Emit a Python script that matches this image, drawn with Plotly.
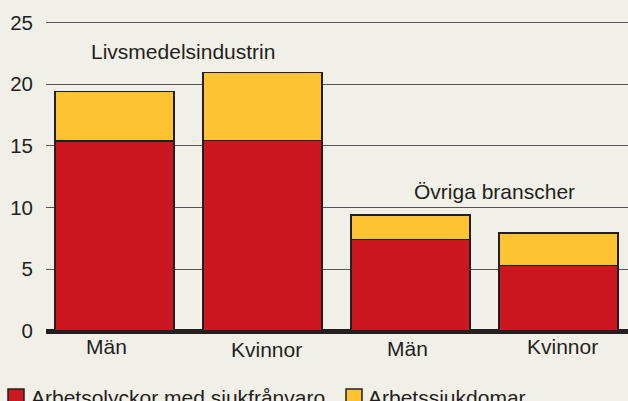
import plotly.graph_objects as go

categories = ["Män", "Kvinnor", "Män", "Kvinnor"]
groups = ["Livsmedelsindustrin", "Övriga branscher"]
series_names = ["Arbetsolyckor med sjukfrånvaro", "Arbetssjukdomar"]
olyckor = [15.4, 15.45, 7.4, 5.3]
sjukdomar = [4.0, 5.5, 2.0, 2.65]
y_ticks = [0, 5, 10, 15, 20, 25]

RED = "#cc1720"
YELLOW = "#fec232"
DARK = "#231f20"
BG = "#f1f0e8"
FONT = "Liberation Sans, Arial, sans-serif"

W, H = 628, 401
ML, MR, MT, MB = 46, 0, 15, 70
PW = W - ML - MR
PH = H - MT - MB
YMAX = 25.6

def px_x(px):
    return (px - ML) / PW

def px_y(py):
    return (H - MB - py) / PH

xs = list(range(len(categories)))

fig = go.Figure()
fig.add_trace(go.Bar(x=xs, y=olyckor, name=series_names[0], marker_color=RED,
                     marker_line_color=DARK, marker_line_width=1.5, width=0.805,
                     showlegend=False))
fig.add_trace(go.Bar(x=xs, y=sjukdomar, name=series_names[1], marker_color=YELLOW,
                     marker_line_color=DARK, marker_line_width=1.5, width=0.805,
                     showlegend=False))

# category labels under bars
label_xshift = [-8, 4, -3, 4]
label_yshift = [0, -3, -2, 0]
for x, lab, dx, dy in zip(xs, categories, label_xshift, label_yshift):
    fig.add_annotation(x=x, y=0, yref="y", text=lab, showarrow=False,
                       yanchor="top", yshift=-2 + dy, xshift=dx,
                       font=dict(size=21, color=DARK, family=FONT))

# group labels
fig.add_annotation(x=0.5, y=22.65, text=groups[0], showarrow=False, xshift=-6,
                   font=dict(size=21, color=DARK, family=FONT))
fig.add_annotation(x=2.5, y=11.3, text=groups[1], showarrow=False, xshift=10,
                   font=dict(size=21, color=DARK, family=FONT))

# legend (manual)
legend_items = [(8, 29, RED, series_names[0]), (346, 366, YELLOW, series_names[1])]
for sx, tx, col, name in legend_items:
    fig.add_shape(type="rect", xref="paper", yref="paper",
                  x0=px_x(sx), x1=px_x(sx + 16), y0=px_y(389), y1=px_y(405),
                  fillcolor=col, line=dict(color=DARK, width=1.5))
    fig.add_annotation(xref="paper", yref="paper", x=px_x(tx), y=px_y(397),
                       xanchor="left", yanchor="middle", text=name, showarrow=False,
                       font=dict(size=21, color=DARK, family=FONT))

fig.update_layout(
    width=W, height=H,
    margin=dict(l=ML, r=MR, t=MT, b=MB, autoexpand=False),
    paper_bgcolor=BG, plot_bgcolor=BG,
    barmode="stack", bargap=0.2,
    font=dict(family=FONT, size=21, color=DARK),
    xaxis=dict(range=[-0.463, 3.47], showticklabels=False, showgrid=False,
               zeroline=False, fixedrange=True),
    yaxis=dict(range=[0, YMAX], tickvals=y_ticks, showgrid=True, gridcolor="#555555",
               gridwidth=1.3, zeroline=True, zerolinecolor=DARK, zerolinewidth=5,
               ticklabelstandoff=12, fixedrange=True,
               tickfont=dict(size=20.5, color=DARK, family=FONT)),
)

fig.write_html("out.html", config={"displayModeBar": False},
               post_script="document.body.style.margin='0px';document.body.style.overflow='hidden';document.body.style.background='" + BG + "';")
